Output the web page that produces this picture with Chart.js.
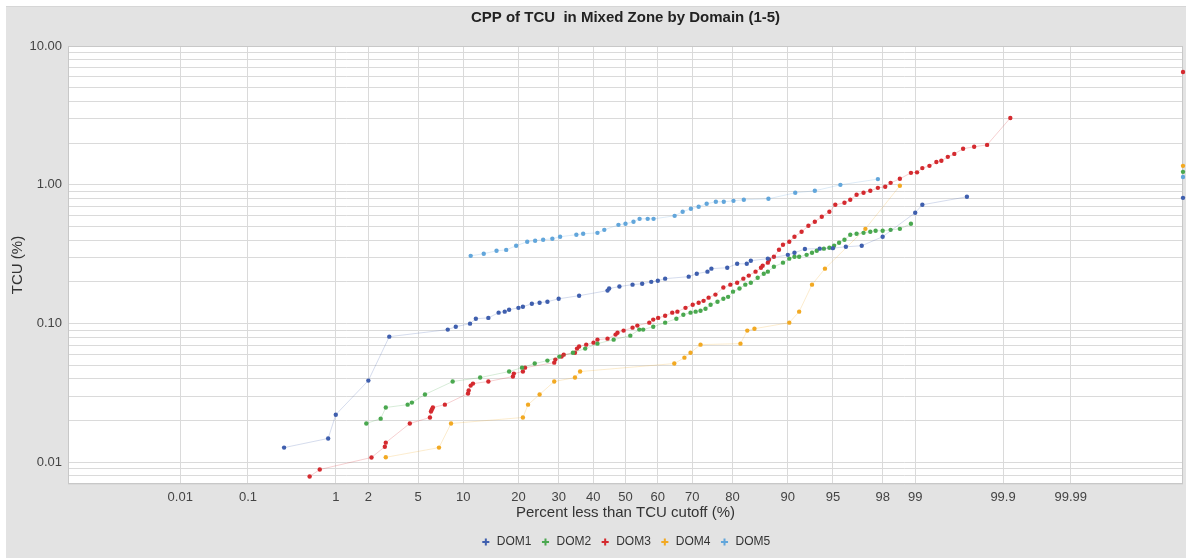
<!DOCTYPE html>
<html lang="en">

<head>
    <meta charset="UTF-8">
    <title>CPP of TCU in Mixed Zone by Domain</title>
    <script src="https://cdn.jsdelivr.net/npm/chart.js"></script>
    <style>
        body { margin: 0; background: #fff; }
        canvas { display: block; }
    </style>
</head>

<body>
    <canvas id="cppChart" width="1186" height="558"></canvas>

    <script>
        // percent less than cutoff (x) and TCU % (y)
        const dom1Pct = [0.28, 0.84, 1.0, 2.0, 3.0, 8.0, 9.0, 11.0, 11.9, 14.0, 15.9, 17.1, 18.0, 20.0, 21.0, 23.1, 25.0, 27.0, 30.0, 35.8, 44.4, 44.9, 48.1, 52.2, 55.2, 58.0, 60.0, 62.2, 69.0, 71.2, 74.0, 75.0, 78.8, 81.0, 83.0, 83.8, 86.9, 90.0, 90.9, 92.2, 93.8, 95.0, 96.0, 97.0, 98.0, 99.0, 99.15, 99.72];
        const dom1Tcu = [0.0128, 0.0149, 0.0221, 0.0389, 0.0806, 0.0906, 0.0951, 0.100, 0.1086, 0.110, 0.120, 0.122, 0.126, 0.130, 0.1325, 0.139, 0.1416, 0.144, 0.151, 0.159, 0.173, 0.179, 0.185, 0.191, 0.194, 0.200, 0.204, 0.211, 0.218, 0.229, 0.237, 0.249, 0.253, 0.270, 0.270, 0.284, 0.294, 0.313, 0.324, 0.345, 0.347, 0.350, 0.358, 0.364, 0.423, 0.630, 0.718, 0.820];

        const dom2Pct = [1.92, 2.55, 2.81, 4.18, 4.5, 5.6, 8.6, 12.6, 18.0, 20.8, 23.8, 27.0, 30.2, 34.0, 37.6, 41.3, 46.3, 51.5, 54.3, 55.5, 58.6, 62.2, 65.5, 67.5, 69.5, 70.9, 72.2, 73.5, 74.8, 76.5, 77.9, 79.0, 80.1, 81.5, 82.7, 83.8, 85.1, 86.2, 86.9, 87.9, 89.3, 90.2, 90.9, 91.5, 92.4, 93.0, 93.5, 94.2, 94.7, 95.1, 95.5, 95.9, 96.3, 96.7, 97.1, 97.45, 97.7, 98.0, 98.3, 98.6, 98.9];
        const dom2Tcu = [0.0191, 0.0207, 0.0249, 0.0261, 0.0270, 0.0309, 0.0383, 0.0409, 0.0452, 0.0482, 0.0516, 0.0542, 0.0579, 0.0618, 0.0661, 0.0718, 0.0767, 0.082, 0.0906, 0.0906, 0.0951, 0.1017, 0.1086, 0.116, 0.120, 0.122, 0.124, 0.128, 0.137, 0.144, 0.151, 0.156, 0.170, 0.179, 0.191, 0.197, 0.214, 0.229, 0.237, 0.257, 0.275, 0.294, 0.303, 0.303, 0.313, 0.324, 0.335, 0.347, 0.352, 0.364, 0.383, 0.402, 0.437, 0.444, 0.451, 0.459, 0.467, 0.467, 0.474, 0.482, 0.524];

        const dom3Pct = [0.54, 0.69, 2.13, 2.76, 2.81, 4.34, 6.07, 6.17, 6.26, 6.36, 7.66, 10.7, 10.8, 11.1, 11.45, 14.0, 18.8, 19.0, 21.0, 21.5, 28.8, 29.1, 30.8, 31.4, 34.6, 35.2, 35.8, 37.9, 40.1, 41.3, 44.4, 46.9, 47.5, 49.4, 52.2, 53.7, 57.4, 58.6, 60.1, 62.2, 64.3, 65.8, 68.1, 70.1, 71.7, 73.0, 74.3, 76.0, 77.9, 79.5, 81.0, 82.3, 83.4, 84.7, 85.7, 86.0, 86.9, 87.1, 87.9, 88.7, 89.3, 90.2, 90.9, 91.8, 92.6, 93.3, 94.0, 94.7, 95.2, 95.9, 96.3, 96.7, 97.1, 97.45, 97.8, 98.1, 98.3, 98.6, 98.9, 99.04, 99.15, 99.28, 99.39, 99.46, 99.54, 99.61, 99.69, 99.77, 99.84, 99.92];
        const dom3Tcu = [0.00793, 0.0089, 0.01087, 0.0130, 0.0139, 0.0191, 0.0211, 0.0233, 0.0241, 0.0249, 0.0261, 0.0314, 0.033, 0.0358, 0.037, 0.0383, 0.0416, 0.0437, 0.0452, 0.0482, 0.0524, 0.0551, 0.0579, 0.0598, 0.0618, 0.0661, 0.0684, 0.0706, 0.073, 0.0767, 0.078, 0.0834, 0.0861, 0.0891, 0.0936, 0.0968, 0.1017, 0.107, 0.110, 0.114, 0.120, 0.122, 0.130, 0.137, 0.1416, 0.146, 0.154, 0.162, 0.182, 0.191, 0.197, 0.211, 0.222, 0.237, 0.253, 0.261, 0.275, 0.289, 0.303, 0.341, 0.370, 0.389, 0.423, 0.459, 0.507, 0.542, 0.589, 0.640, 0.718, 0.743, 0.780, 0.848, 0.876, 0.906, 0.951, 0.968, 1.033, 1.105, 1.22, 1.23, 1.32, 1.37, 1.46, 1.49, 1.59, 1.67, 1.82, 1.88, 1.94, 3.03];

        const dom4Pct = [2.81, 7.0, 8.4, 21.0, 22.2, 25.0, 28.8, 34.6, 36.1, 64.9, 67.8, 69.5, 72.2, 81.7, 83.1, 84.5, 90.2, 91.5, 93.0, 94.3, 97.2, 98.6];
        const dom4Tcu = [0.0109, 0.0128, 0.0191, 0.0211, 0.0261, 0.0309, 0.0383, 0.0409, 0.0452, 0.0516, 0.0569, 0.0618, 0.0706, 0.0718, 0.0891, 0.092, 0.1017, 0.122, 0.191, 0.249, 0.482, 0.984];

        const dom5Pct = [11.1, 13.2, 15.5, 17.4, 19.5, 22.0, 23.9, 25.9, 28.3, 30.4, 35.0, 37.0, 41.3, 43.4, 47.8, 50.0, 52.5, 54.4, 56.9, 58.7, 65.0, 67.3, 69.6, 71.7, 73.8, 76.1, 78.0, 80.2, 82.4, 87.0, 91.0, 93.3, 95.6, 97.8];
        const dom5Tcu = [0.308, 0.319, 0.335, 0.34, 0.364, 0.389, 0.396, 0.402, 0.409, 0.423, 0.437, 0.444, 0.451, 0.474, 0.515, 0.524, 0.542, 0.569, 0.569, 0.569, 0.598, 0.640, 0.672, 0.695, 0.730, 0.755, 0.755, 0.767, 0.780, 0.793, 0.876, 0.906, 1.00, 1.10, 1.14];

        // lone points sitting on the right edge of the plot (one per domain)
        const edgePct = 99.99995;
        const edgeTcu = [0.806, 1.24, 6.50, 1.37, 1.14];

        const domLabels = ['DOM1', 'DOM2', 'DOM3', 'DOM4', 'DOM5'];
        const domColors = ['#3f5fae', '#4aa84f', '#d42a2f', '#f2a922', '#62a6db'];

        const xTickPct = [0.01, 0.1, 1, 2, 5, 10, 20, 30, 40, 50, 60, 70, 80, 90, 95, 98, 99, 99.9, 99.99];
        const xTickLabels = ['0.01', '0.1', '1', '2', '5', '10', '20', '30', '40', '50', '60', '70', '80', '90', '95', '98', '99', '99.9', '99.99'];
        const yMajor = [0.01, 0.1, 1, 10];
        const yMin = 0.007, yMax = 10;

        // inverse normal cdf (Acklam)
        function probit(p) {
            const a = [-39.69683028665376, 220.9460984245205, -275.9285104469687, 138.3577518672690, -30.66479806614716, 2.506628277459239];
            const b = [-54.47609879822406, 161.5858368580409, -155.6989798598866, 66.80131188771972, -13.28068155288572];
            const c = [-0.007784894002430293, -0.3223964580411365, -2.400758277161838, -2.549671464609869, 4.374664141464968, 2.938163982698783];
            const d = [0.007784695709041462, 0.3224671290700398, 2.445134137142996, 3.754408661907416];
            const tail = q => (((((c[0] * q + c[1]) * q + c[2]) * q + c[3]) * q + c[4]) * q + c[5]) / ((((d[0] * q + d[1]) * q + d[2]) * q + d[3]) * q + 1);
            if (p < 0.02425) return tail(Math.sqrt(-2 * Math.log(p)));
            if (p > 1 - 0.02425) return -tail(Math.sqrt(-2 * Math.log(1 - p)));
            const q = p - 0.5, r = q * q;
            return (((((a[0] * r + a[1]) * r + a[2]) * r + a[3]) * r + a[4]) * r + a[5]) * q / (((((b[0] * r + b[1]) * r + b[2]) * r + b[3]) * r + b[4]) * r + 1);
        }

        // probability axis of the original tool (probit, slightly squeezed in the tails)
        function probAxis(pct) {
            const z = probit(pct / 100);
            return z - 0.00447 * z * z * z;
        }

        function serie(pct, tcu, edge) {
            const pts = pct.map((p, i) => ({ x: probAxis(p), y: tcu[i] }));
            pts.push({ x: probAxis(edgePct), y: null });
            pts.push({ x: probAxis(edgePct), y: edge });
            return pts;
        }

        const yGrid = [];
        [0.001, 0.01, 0.1, 1].forEach(dec => {
            for (let m = 1; m < 10; m++) {
                const v = +(m * dec).toPrecision(3);
                if (v >= yMin && v <= yMax) yGrid.push(v);
            }
        });
        yGrid.push(10);

        const series = [[dom1Pct, dom1Tcu], [dom2Pct, dom2Tcu], [dom3Pct, dom3Tcu], [dom4Pct, dom4Tcu], [dom5Pct, dom5Tcu]];

        const fundo = {
            id: 'fundo',
            beforeDraw(chart) {
                const { ctx, width, height, chartArea: a } = chart;
                ctx.save();
                ctx.fillStyle = '#ffffff';
                ctx.fillRect(0, 0, width, height);
                ctx.fillStyle = '#e3e3e3';
                ctx.fillRect(6, 6, width - 6, height - 6);
                ctx.fillStyle = '#d6d6d6';
                ctx.fillRect(6, 6, width - 6, 1);
                ctx.fillStyle = '#ffffff';
                ctx.fillRect(a.left, a.top, a.right - a.left, a.bottom - a.top);
                ctx.restore();
            },
            beforeDatasetsDraw(chart) {
                const { ctx, chartArea: a } = chart;
                ctx.save();
                ctx.strokeStyle = '#c8c8c8';
                ctx.lineWidth = 1;
                ctx.strokeRect(a.left + 0.5, a.top + 0.5, a.right - a.left - 1, a.bottom - a.top - 1);
                ctx.restore();
            }
        };

        const fonte = "'Liberation Sans', Arial, sans-serif";
        Chart.defaults.font.family = fonte;

        new Chart(document.getElementById('cppChart').getContext('2d'), {
            type: 'scatter',
            data: {
                datasets: series.map(([pct, tcu], i) => ({
                    label: domLabels[i],
                    data: serie(pct, tcu, edgeTcu[i]),
                    showLine: true,
                    spanGaps: false,
                    borderColor: domColors[i] + '38',
                    borderWidth: 1,
                    backgroundColor: domColors[i],
                    pointRadius: 2.2,
                    pointBorderWidth: 0,
                    pointHoverRadius: 3,
                    clip: false
                }))
            },
            options: {
                responsive: false,
                animation: false,
                layout: { padding: { left: 6, right: 3, top: 6, bottom: 0 } },
                scales: {
                    x: {
                        type: 'linear',
                        min: probAxis(100 - edgePct),
                        max: probAxis(edgePct),
                        afterBuildTicks: s => { s.ticks = xTickPct.map(p => ({ value: probAxis(p) })); },
                        afterFit: s => { s.height = 43; },
                        grid: { color: '#dadada', drawTicks: false },
                        border: { display: false },
                        ticks: {
                            autoSkip: false,
                            maxRotation: 0,
                            padding: 6,
                            color: '#444',
                            font: { size: 13 },
                            callback: (v, i) => xTickLabels[i]
                        },
                        title: {
                            display: true,
                            text: 'Percent less than TCU cutoff (%)',
                            color: '#333',
                            font: { size: 15 },
                            padding: { top: 0, bottom: 5 }
                        }
                    },
                    y: {
                        type: 'logarithmic',
                        min: yMin,
                        max: yMax,
                        afterBuildTicks: s => { s.ticks = yGrid.map(v => ({ value: v })); },
                        afterFit: s => { s.width = 62; },
                        grid: { color: '#dadada', drawTicks: false },
                        border: { display: false },
                        ticks: {
                            autoSkip: false,
                            padding: 6,
                            color: '#444',
                            font: { size: 13 },
                            callback: v => yMajor.includes(v) ? v.toFixed(2) : ''
                        },
                        title: {
                            display: true,
                            text: 'TCU (%)',
                            color: '#333',
                            font: { size: 15 },
                            padding: { top: 3, bottom: 0 }
                        }
                    }
                },
                plugins: {
                    title: {
                        display: true,
                        fullSize: false,
                        text: 'CPP of TCU  in Mixed Zone by Domain (1-5)',
                        color: '#222',
                        font: { size: 15, weight: 'bold' },
                        padding: { top: 3, bottom: 19 }
                    },
                    legend: {
                        position: 'bottom',
                        fullSize: false,
                        labels: {
                            usePointStyle: true,
                            pointStyle: 'cross',
                            boxWidth: 10,
                            boxHeight: 5,
                            padding: 9,
                            color: '#333',
                            font: { size: 12 },
                            generateLabels: chart => Chart.defaults.plugins.legend.labels.generateLabels(chart)
                                .map((item, i) => Object.assign(item, { strokeStyle: domColors[i], lineWidth: 2, pointStyle: 'cross' }))
                        }
                    },
                    tooltip: { enabled: false }
                }
            },
            plugins: [fundo]
        });
    </script>
</body>

</html>
